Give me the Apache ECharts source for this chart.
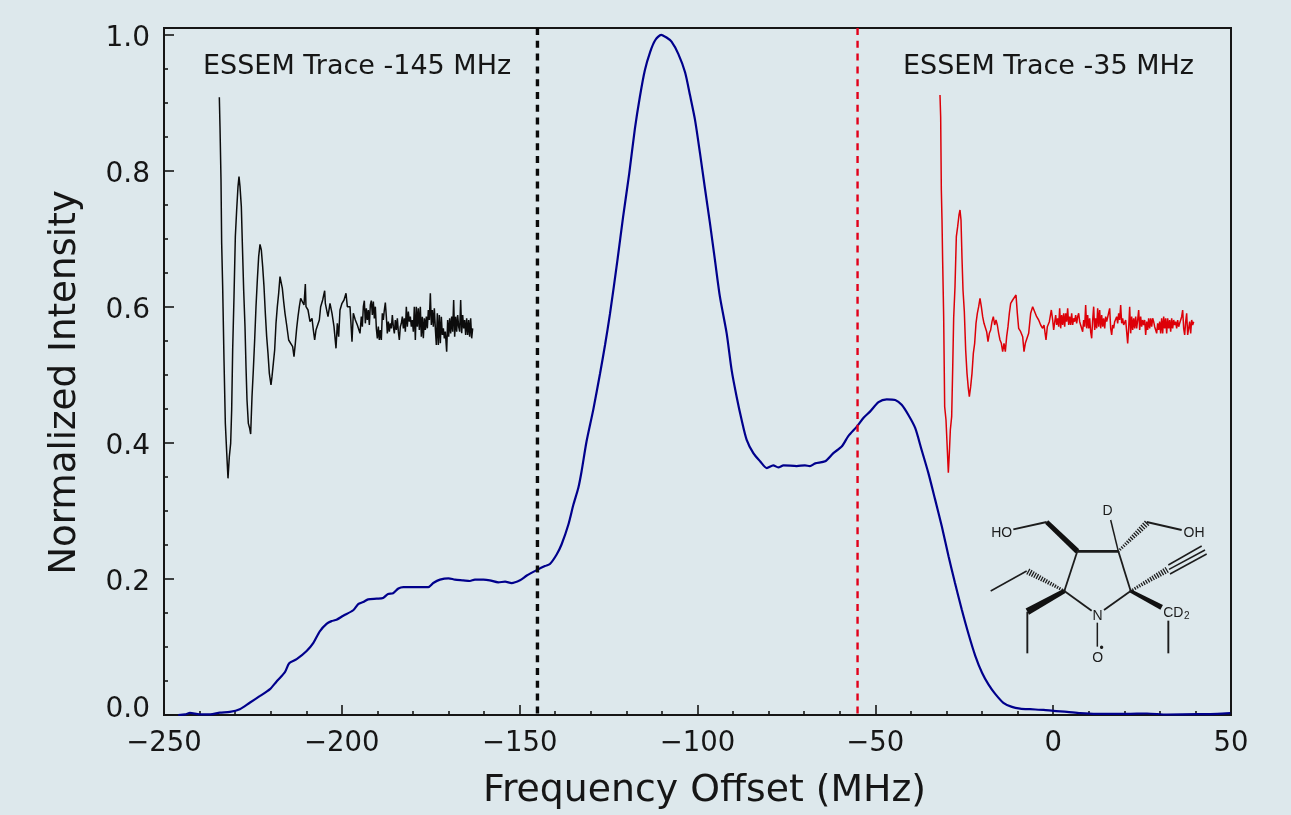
<!DOCTYPE html>
<html><head><meta charset="utf-8">
<style>html,body{margin:0;padding:0;background:#dde8ec}#c{width:1291px;height:815px;filter:blur(0.45px)}</style>
<script src="https://cdn.jsdelivr.net/npm/echarts@6/dist/echarts.min.js"></script>
</head><body><div id="c"></div>
<script>
// Main spectrum: [frequency offset MHz, normalized intensity]
const spectrum = [[-246,0],[-244,0.001],[-242.7,0.003],[-240,0.001],[-237,0.001],[-234.3,0.0035],[-231.5,0.0045],[-228.7,0.0084],[-225.9,0.018],[-223,0.028],[-220.2,0.038],[-218.4,0.049],[-216,0.063],[-214.8,0.076],[-212.7,0.082],[-209.9,0.094],[-208,0.106],[-206.2,0.123],[-204.3,0.134],[-202.9,0.138],[-201.5,0.140],[-199.6,0.146],[-196.8,0.154],[-195.4,0.163],[-194,0.166],[-192.6,0.170],[-190.2,0.171],[-188.4,0.172],[-187,0.178],[-185.6,0.179],[-184.1,0.186],[-182.7,0.188],[-179,0.188],[-175.7,0.188],[-174.3,0.194],[-172.4,0.199],[-170,0.201],[-168.2,0.199],[-165.9,0.198],[-164,0.197],[-162.6,0.199],[-160.2,0.199],[-158.4,0.198],[-156,0.195],[-154.1,0.196],[-152.3,0.194],[-149.9,0.198],[-148,0.205],[-145.2,0.213],[-142.9,0.219],[-141.5,0.222],[-139.6,0.236],[-138.2,0.251],[-136.3,0.280],[-134.9,0.309],[-133.5,0.334],[-132.6,0.358],[-131.2,0.402],[-129.3,0.449],[-127.4,0.502],[-126,0.544],[-124.6,0.590],[-122.5,0.669],[-120.9,0.733],[-119.2,0.796],[-117.6,0.862],[-116.2,0.909],[-114.8,0.948],[-113.3,0.975],[-111.9,0.992],[-110.2,1.0],[-108.7,0.996],[-107.3,0.990],[-105.4,0.972],[-103.5,0.945],[-102.1,0.911],[-100.7,0.875],[-99.3,0.826],[-97.9,0.774],[-96.5,0.723],[-95.1,0.669],[-93.7,0.615],[-91.8,0.561],[-90.4,0.507],[-89,0.468],[-87.6,0.434],[-86.2,0.405],[-84.3,0.385],[-82.4,0.373],[-80.5,0.363],[-78.7,0.367],[-77.3,0.364],[-75.8,0.367],[-72.1,0.366],[-69.8,0.367],[-68.4,0.366],[-66.9,0.370],[-64.1,0.373],[-61.8,0.385],[-59.4,0.395],[-57.6,0.410],[-55.2,0.424],[-53.3,0.437],[-51.5,0.446],[-49.1,0.460],[-46.8,0.464],[-44.4,0.463],[-42.6,0.456],[-40.7,0.441],[-38.8,0.422],[-37,0.390],[-35.1,0.356],[-33.2,0.317],[-31.3,0.277],[-29.4,0.233],[-27.6,0.194],[-25.7,0.155],[-23.8,0.119],[-21.9,0.087],[-20,0.062],[-18.2,0.045],[-16.3,0.031],[-14,0.018],[-11.6,0.012],[-9.3,0.0095],[-6.5,0.0085],[-2.7,0.0075],[0.1,0.006],[3.9,0.0046],[7.6,0.0027],[12.3,0.0017],[20.7,0.0017],[26.4,0.0022],[32,0.0007],[40.5,0.0012],[46.1,0.0017],[49.8,0.0027]];

// Field markers (MHz)
const markerBlack = -145;
const markerRed = -55;

// ESSEM inset traces: [time (arb.), modulation amplitude (arb.)]
const traceBlack = [[58,678],[60,590],[63,430],[65,240],[68,110],[72,-110],[76,-300],[80,-385],[84,-465],[88,-400],[92,-360],[95,-260],[98,-80],[102,80],[106,260],[110,340],[114,410],[117,440],[120,410],[124,350],[127,240],[131,100],[135,-10],[138,-130],[141,-230],[145,-300],[149,-315],[152,-332],[156,-220],[160,-140],[164,-50],[168,50],[172,130],[176,200],[180,237],[184,220],[188,170],[192,110],[196,30],[200,-40],[204,-90],[208,-150],[213,-185],[216,-160],[220,-120],[224,-80],[228,0],[232,50],[236,90],[240,140],[243,145],[247,105],[251,65],[255,30],[260,-5],[266,-50],[272,-60],[278,-70],[282,-100],[286,-60],[290,-15],[294,20],[298,50],[302,75],[308,80],[312,55],[316,118],[318,50],[324,40],[330,5],[336,15],[340,-20],[344,-50],[348,-20],[352,-15],[358,10],[362,50],[368,70],[374,98],[376,60],[380,65],[384,20],[390,60],[396,30],[402,-10],[408,-75],[412,0],[416,-40],[420,40],[426,60],[432,70],[438,90],[442,50],[450,50],[456,-55],[460,30],[466,10],[472,-5],[480,-30],[484,20],[487,-10],[490,50],[493,68],[496,0],[499,45],[502,10],[505,40],[508,-5],[511,55],[514,68],[517,25],[520,65],[523,15],[526,50],[529,-15],[532,-45],[535,-10],[538,-50],[541,-20],[544,-50],[547,30],[550,10],[553,40],[556,62],[559,20],[562,-30],[565,5],[568,-25],[571,0],[574,-15],[577,25],[580,-10],[583,-30],[586,10],[589,-20],[592,15],[595,-25],[598,-50],[601,-10],[604,0],[607,20],[610,-15],[613,15],[616,-25],[619,50],[622,-10],[625,35],[628,5],[631,20],[634,-10],[637,10],[640,-25],[643,50],[646,-50],[649,50],[652,-10],[655,45],[658,-20],[661,50],[664,-40],[667,20],[670,-45],[673,15],[676,-20],[679,20],[682,-15],[685,40],[688,10],[691,90],[694,-5],[697,40],[700,-10],[703,45],[706,-15],[709,-65],[712,30],[715,-65],[718,25],[721,-60],[724,20],[727,-35],[730,-15],[733,-45],[736,-25],[740,-85],[743,10],[746,-40],[749,15],[752,-30],[755,20],[758,-25],[761,70],[764,-40],[767,20],[770,-25],[773,25],[776,-10],[779,-25],[782,70],[785,-30],[788,25],[791,-15],[794,10],[797,-35],[800,15],[803,-35],[806,10],[809,-40],[812,15],[815,-45],[818,-15]];
const traceRed = [[60,685],[62,620],[64,400],[66,310],[68,185],[71,20],[74,-250],[78,-290],[82,-380],[85,-448],[88,-390],[91,-320],[95,-280],[98,-140],[101,15],[105,110],[109,260],[113,290],[117,325],[120,340],[123,310],[126,195],[129,100],[133,35],[137,-80],[141,-150],[145,-195],[148,-220],[152,-190],[156,-150],[160,-90],[164,-60],[168,0],[172,30],[176,50],[180,75],[184,50],[188,20],[192,0],[196,5],[200,-25],[204,-55],[208,-30],[212,-20],[216,5],[220,20],[224,-5],[228,10],[232,-5],[236,-30],[240,-50],[244,-60],[248,-85],[252,-60],[256,-85],[260,-40],[264,-10],[268,30],[272,60],[278,70],[284,65],[288,85],[292,30],[296,-15],[302,-25],[308,-40],[312,-85],[316,-60],[320,-55],[326,-30],[332,30],[338,50],[344,50],[350,20],[356,10],[362,-5],[368,-15],[372,-5],[378,-50],[382,-10],[388,5],[394,40],[398,10],[401,-20],[404,-20],[407,25],[410,-5],[413,15],[416,-10],[419,45],[422,-15],[425,25],[428,-5],[431,30],[434,-10],[437,30],[440,5],[443,45],[446,-5],[449,20],[452,-5],[455,30],[458,-5],[461,15],[464,5],[467,25],[470,0],[473,20],[476,30],[479,5],[482,10],[485,0],[488,-25],[491,10],[494,-10],[497,55],[500,-15],[503,25],[506,-15],[509,15],[512,-25],[515,-45],[518,10],[521,50],[524,-20],[527,15],[530,-15],[533,45],[536,-10],[539,40],[542,-15],[545,25],[548,-10],[551,15],[554,-15],[557,20],[560,5],[563,0],[566,10],[569,45],[572,-15],[575,-35],[578,-5],[581,-15],[584,5],[587,10],[590,20],[593,0],[596,30],[599,10],[602,55],[605,0],[608,15],[611,-5],[614,-10],[617,10],[620,-25],[623,-60],[626,-15],[629,50],[632,-30],[635,20],[638,-20],[641,15],[644,-15],[647,20],[650,-15],[653,10],[656,40],[659,-20],[662,20],[665,-10],[668,10],[671,-5],[674,10],[677,-35],[680,5],[683,-20],[686,15],[689,-15],[692,15],[695,-10],[698,15],[701,5],[704,-10],[707,-5],[710,-30],[713,0],[716,-20],[719,5],[722,-30],[725,15],[728,-30],[731,20],[734,-15],[737,15],[740,-30],[743,15],[746,-15],[749,10],[752,-25],[755,15],[758,-15],[761,10],[764,-5],[767,5],[770,-15],[773,10],[776,-10],[779,0],[782,-5],[785,20],[788,40],[791,-15],[794,-35],[797,5],[800,30],[803,-35],[806,-40],[809,5],[812,-30],[815,10],[818,-5],[821,5]];

// Tick labels and annotations
const xTicks = {min:-250, max:50, step:50};
const yTicks = {min:0, max:1.01, step:0.2};
const labelLeft = 'ESSEM Trace -145 MHz';
const labelRight = 'ESSEM Trace -35 MHz';
const xTitle = 'Frequency Offset (MHz)';
const yTitle = 'Normalized Intensity';

// Molecular structure in its own drawing units
const molPlain = [[322,184,445,184,2.8],[322,184,283,303,1.8],[445,184,482,303,1.8],[283,303,365,362,1.8],[482,303,402,360,1.8],[382,398,382,470,1.5],[130,118,230,96,1.8],[422,90,445,184,1.5],[530,96,635,120,1.8],[595,225,695,168,1.5],[597,238,705,180,1.5],[600,252,710,192,1.5],[170,243,62,303,1.5],[172,365,172,490,1.9],[595,392,595,490,1.9]];
const molBold = [[230,96,322,184,4.5,5.5],[283,303,172,365,4.5,7],[482,303,575,352,3.5,5.5]];
const molHash = [[445,184,530,100],[482,303,590,240],[283,303,175,245]];
const molText = [[95,128,'HO'],[413,62,'D'],[672,128,'OH'],[383,378,'N'],[383,503,'O'],[395,476,'•'],[610,368,'CD'],[650,380,'2']];

const INK = '#161616';
const chart = echarts.init(document.getElementById('c'), null, {renderer:'canvas'});

function hidden(gridIndex, min, max, inverse){
  return {type:'value', gridIndex, min, max, inverse:!!inverse, show:false, splitLine:{show:false}};
}
function renderMol(params, api){
  const kind = api.value(0), idx = api.value(1);
  const lineStyle = (w)=>({stroke:'#1c1c1c', lineWidth:w, fill:null});
  if(kind===0){
    const b = molPlain[idx], p=api.coord([b[0],b[1]]), q=api.coord([b[2],b[3]]);
    return {type:'line', shape:{x1:p[0],y1:p[1],x2:q[0],y2:q[1]}, style:lineStyle(b[4])};
  }
  if(kind===1){
    const b = molBold[idx], p=api.coord([b[0],b[1]]), q=api.coord([b[2],b[3]]);
    const dx=q[0]-p[0], dy=q[1]-p[1], L=Math.hypot(dx,dy), nx=-dy/L, ny=dx/L, a=b[4]/2, c=b[5]/2;
    return {type:'polygon', shape:{points:[[p[0]+nx*a,p[1]+ny*a],[q[0]+nx*c,q[1]+ny*c],[q[0]-nx*c,q[1]-ny*c],[p[0]-nx*a,p[1]-ny*a]]}, style:{fill:'#111'}};
  }
  if(kind===2){
    const b = molHash[idx], p=api.coord([b[0],b[1]]), q=api.coord([b[2],b[3]]);
    const dx=q[0]-p[0], dy=q[1]-p[1], L=Math.hypot(dx,dy), nx=-dy/L, ny=dx/L, n=Math.round(L/2.6), kids=[];
    for(let i=0;i<=n;i++){
      const t=i/n, h=1.2+t*2, cx=p[0]+dx*t, cy=p[1]+dy*t;
      kids.push({type:'line', shape:{x1:cx+nx*h,y1:cy+ny*h,x2:cx-nx*h,y2:cy-ny*h}, style:lineStyle(1.3)});
    }
    return {type:'group', children:kids};
  }
  const t = molText[idx], p=api.coord([t[0],t[1]]);
  const fs = t[2]==='2' ? 10 : (t[2]==='•' ? 12 : 14);
  return {type:'text', style:{x:p[0], y:p[1], text:t[2], fill:'#1c1c1c', font:fs+'px "Liberation Sans"', align:'center', verticalAlign:'middle'}};
}
const molData = [];
molPlain.forEach((_,i)=>molData.push([0,i]));
molBold.forEach((_,i)=>molData.push([1,i]));
molHash.forEach((_,i)=>molData.push([2,i]));
molText.forEach((_,i)=>molData.push([3,i]));

chart.setOption({
  animation:false,
  backgroundColor:'#dde8ec',
  textStyle:{fontFamily:'"DejaVu Sans"'},
  grid:[
    {left:164, top:28, width:1067, height:687.5, show:true, borderColor:INK, borderWidth:2, backgroundColor:'transparent'},
    {left:200, top:80, width:290, height:410},
    {left:920, top:80, width:290, height:410},
    {left:970, top:490, width:260, height:190}
  ],
  xAxis:[
    {type:'value', gridIndex:0, min:xTicks.min, max:xTicks.max, interval:xTicks.step,
     name:xTitle, nameLocation:'middle', nameGap:57, nameTextStyle:{fontSize:37.8, color:INK, fontFamily:'"DejaVu Sans"', padding:[0,0,0,14]},
     axisLine:{onZero:false, lineStyle:{color:INK, width:2}},
     axisTick:{inside:true, length:10, lineStyle:{color:INK, width:1.6}},
     minorTick:{show:true, splitNumber:5, length:4, lineStyle:{color:INK, width:1.6}},
     splitLine:{show:false},
     axisLabel:{fontSize:27.5, color:INK, margin:15, formatter:v=>String(v).replace('-','\u2212')}},
    hidden(1,0,870), hidden(2,0,870), hidden(3,0,780)
  ],
  yAxis:[
    {type:'value', gridIndex:0, min:yTicks.min, max:yTicks.max, interval:yTicks.step,
     name:yTitle, nameLocation:'middle', nameGap:80, nameRotate:90, nameTextStyle:{fontSize:37.2, color:INK, fontFamily:'"DejaVu Sans"', padding:[0,22,0,0]},
     axisLine:{onZero:false, lineStyle:{color:INK, width:2}},
     axisTick:{inside:true, length:10, lineStyle:{color:INK, width:1.6}},
     minorTick:{show:true, splitNumber:4, length:4, lineStyle:{color:INK, width:1.6}},
     splitLine:{show:false},
     axisLabel:{fontSize:28, color:INK, margin:14, showMaxLabel:false,
       rich:{n:{fontSize:28, color:INK, padding:[8,0,0,0]}, z:{fontSize:28, color:INK, padding:[0,0,10,0]}},
       formatter:v=> v===0 ? '{z|0.0}' : '{n|'+v.toFixed(1)+'}'}},
    hidden(1,-500,730), hidden(2,-500,730), hidden(3,0,570,true)
  ],
  series:[
    {type:'line', name:'Spectrum', xAxisIndex:0, yAxisIndex:0, data:spectrum, showSymbol:false, clip:false, smooth:0.25,
     lineStyle:{color:'#00008c', width:2.2}, z:3},
    {type:'line', name:'Marker -145', xAxisIndex:0, yAxisIndex:0, data:[[markerBlack,yTicks.max],[markerBlack,0]], showSymbol:false,
     lineStyle:{color:'#0a0a0a', width:3.4, type:[7,5.8]}, z:4},
    {type:'line', name:'Marker -55', xAxisIndex:0, yAxisIndex:0, data:[[markerRed,yTicks.max],[markerRed,0]], showSymbol:false,
     lineStyle:{color:'#e2001a', width:2.4, type:[7,5.8]}, z:4},
    {type:'line', name:'Trace -145', xAxisIndex:1, yAxisIndex:1, data:traceBlack, showSymbol:false,
     lineStyle:{color:'#0c0c0c', width:1.5}, z:3},
    {type:'line', name:'Trace -35', xAxisIndex:2, yAxisIndex:2, data:traceRed, showSymbol:false,
     lineStyle:{color:'#dd0008', width:1.5}, z:3},
    {type:'custom', name:'Structure', xAxisIndex:3, yAxisIndex:3, coordinateSystem:'cartesian2d', data:molData, renderItem:renderMol, clip:false, z:3, silent:true}
  ],
  graphic:[
    {type:'text', left:203, top:53, style:{text:labelLeft, fill:INK, font:'27px "DejaVu Sans"'}},
    {type:'text', left:903, top:53, style:{text:labelRight, fill:INK, font:'27px "DejaVu Sans"'}}
  ]
});
</script></body></html>
